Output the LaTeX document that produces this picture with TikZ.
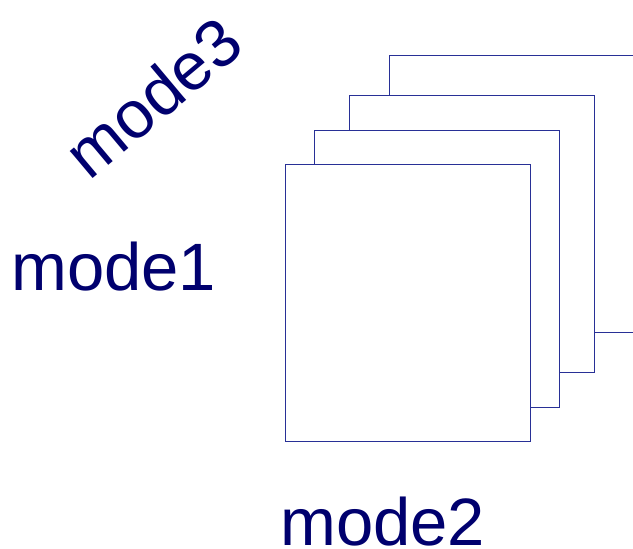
\documentclass[tikz,border=0pt]{standalone}
\usepackage{fontspec}
\setmainfont{Liberation Sans}
\definecolor{navy}{RGB}{0,0,110}
\definecolor{sheetline}{RGB}{40,48,150}

\begin{document}
\begin{tikzpicture}
    [x=1pt, y=-1pt,
    sheet/.style={draw=sheetline, fill=white, line width=1.4pt, inner sep=0pt,
        minimum width=245pt, minimum height=277pt, anchor=north west},
    modelabel/.style={text=navy, inner sep=0pt, font=\fontsize{67}{67}\selectfont}]
    \useasboundingbox (0,0) rectangle (633,549);
        %% slices of the tensor, back to front
    \node[sheet] (S4) at (389,55) {};
    \node[sheet] (S3) at (349,95) {};
    \node[sheet] (S2) at (314,130) {};
    \node[sheet] (S1) at (285,164) {};

        %% mode labels
    \node[modelabel, anchor=base west] (M1) at (11,290) {mode1};
    \node[modelabel, anchor=base west] (M2) at (280,545) {mode2};
    \node[modelabel, rotate=40] (M3) at (153,97) {mode3};
\end{tikzpicture}
\end{document}
